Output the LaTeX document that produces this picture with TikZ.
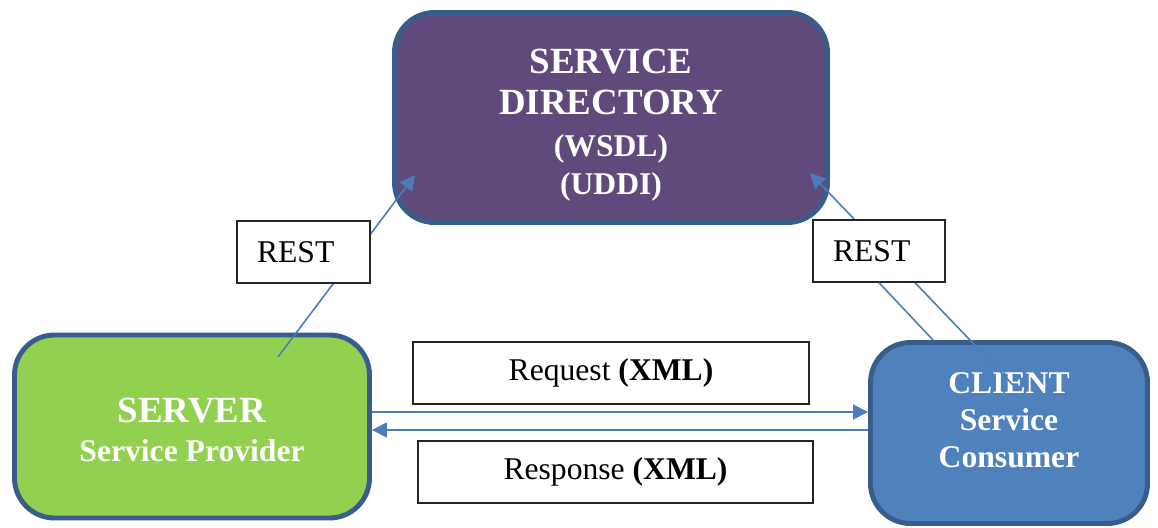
\documentclass[tikz,border=0pt]{standalone}
\usepackage{fontspec}
\setmainfont{Liberation Serif}
\usetikzlibrary{arrows.meta}
\definecolor{dirPurple}{RGB}{96,74,123}
\definecolor{boxBorder}{RGB}{56,93,138}
\definecolor{srvGreen}{RGB}{146,208,80}
\definecolor{cliBlue}{RGB}{79,129,189}
\definecolor{arrBlue}{RGB}{74,126,187}
\begin{document}
\begin{tikzpicture}[>={Triangle[length=0.3cm,width=0.3cm]},
  bigbox/.style={draw=boxBorder, line width=2.8pt, rounded corners=0.8cm, rectangle},
  boxtxt/.style={text=white, align=center, font=\bfseries\fontsize{18}{21}\selectfont},
  tagbox/.style={draw=black!85, line width=0.8pt, fill=white, rectangle, minimum height=1.24cm, font=\fontsize{18}{21}\selectfont},
  link/.style={draw=arrBlue, line width=0.9pt}]
\useasboundingbox (0,0) rectangle (23.16,-10.54);

\node(Dir)[bigbox, fill=dirPurple, minimum width=8.66cm, minimum height=4.2cm] at (12.22,-2.35) {};
\node(DirTxt)[boxtxt, font=\bfseries\fontsize{21}{23.2}\selectfont] at ([yshift=-0.15cm]Dir.center)
  {SERVICE\\DIRECTORY\\[0.6pt]{\fontsize{18}{21}\selectfont (WSDL)}\\[-1.7pt]{\fontsize{18}{21}\selectfont (UDDI)}};
\node(Srv)[bigbox, fill=srvGreen, minimum width=7.1cm, minimum height=3.66cm] at (3.84,-8.53) {};
\node(SrvTxt)[boxtxt, font=\bfseries\fontsize{21}{25}\selectfont] at ([yshift=-0.07cm]Srv.center)
  {SERVER\\[-3pt]{\fontsize{18}{21}\selectfont Service Provider}};
\node(Cli)[bigbox, fill=cliBlue, minimum width=5.54cm, minimum height=3.62cm] at (20.18,-8.66) {};
\node(CliTxt)[boxtxt] at ([yshift=0.26cm]Cli.center) {CLIENT\\Service\\Consumer};

% REST links
\coordinate(SrvOut) at ([xshift=1.72cm,yshift=1.39cm]Srv.center);
\coordinate(DirInL) at ([xshift=-3.92cm,yshift=-1.15cm]Dir.center);
\coordinate(CliOut) at ([xshift=0.08cm,yshift=0.96cm]Cli.center);
\coordinate(DirInR) at ([xshift=3.98cm,yshift=-1.11cm]Dir.center);
\draw[link,->] (SrvOut) -- (DirInL);
\draw[link,->] (CliOut) -- (DirInR);

\node(RestL)[tagbox, text width=1.86cm, inner xsep=0.4cm, align=left] at (6.07,-5.04) {REST};
\node(RestR)[tagbox, text width=1.84cm, inner xsep=0.4cm, align=left] at (17.58,-5.02) {REST};
\draw[link] ([xshift=-1.52cm]Cli.north) -- (RestR.south);

% messages
\node(Req)[tagbox, minimum width=7.92cm] at (12.22,-7.46) {Request {\bfseries (XML)}};
\node(Resp)[tagbox, minimum width=7.9cm] at (12.31,-9.44) {Response {\bfseries (XML)}};

\coordinate(ReqL) at ([yshift=0.29cm]Srv.east);
\coordinate(RespL) at ([yshift=-0.07cm]Srv.east);
\draw[link,->] (ReqL) -- (ReqL -| Cli.west);
\draw[link,->] (RespL -| Cli.west) -- (RespL);
\end{tikzpicture}
\end{document}
